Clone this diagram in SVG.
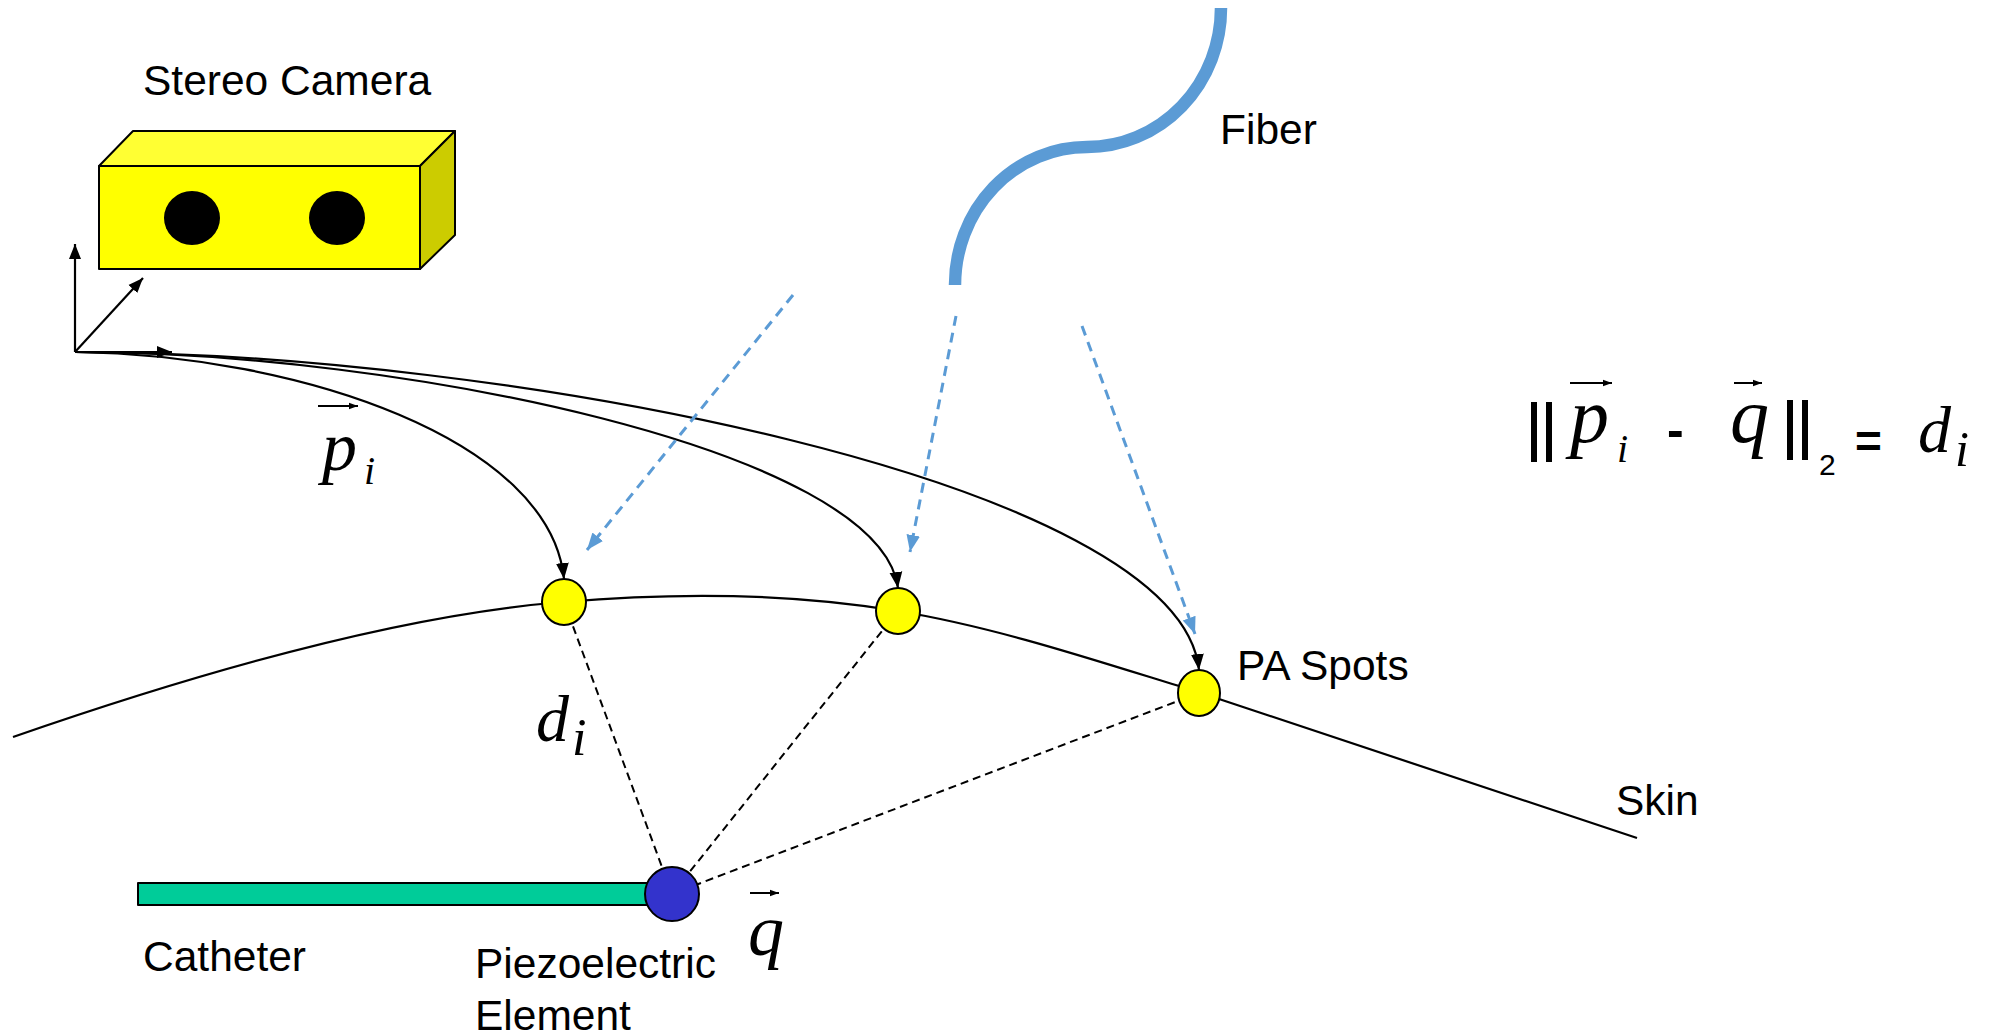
<svg xmlns="http://www.w3.org/2000/svg" width="2003" height="1035" viewBox="0 0 2003 1035">
  <style>
    .lbl { font-family: "Liberation Sans", Arial, sans-serif; font-size: 42.5px; fill: #000; }
    .mi { font-family: "Liberation Serif", "Times New Roman", serif; font-style: italic; fill: #000; }
    .op { font-family: "Liberation Sans", Arial, sans-serif; font-weight: bold; fill: #000; }
    .bar { stroke: #000; stroke-width: 6; }
    .edge { fill: none; stroke: #000; stroke-width: 2.2; }
    .ray { fill: none; stroke: #5B9BD5; stroke-width: 3; stroke-dasharray: 10 7; }
    .dist { fill: none; stroke: #000; stroke-width: 2; stroke-dasharray: 8 5; }
    .spot { fill: #FFFF00; stroke: #000; stroke-width: 2; }
    .outline { stroke: #000; stroke-width: 2; stroke-linejoin: round; }
  </style>
  <defs>
    <marker id="ah" viewBox="0 0 10 10" refX="10" refY="5" markerWidth="16" markerHeight="16" orient="auto" markerUnits="userSpaceOnUse">
      <path d="M0,1 L10,5 L0,9 z" fill="#000"/>
    </marker>
    <marker id="ahSmall" viewBox="0 0 10 10" refX="10" refY="5" markerWidth="15" markerHeight="15" orient="auto" markerUnits="userSpaceOnUse">
      <path d="M0,1 L10,5 L0,9 z" fill="#000"/>
    </marker>
    <marker id="ahBlue" viewBox="0 0 10 10" refX="10" refY="5" markerWidth="17" markerHeight="17" orient="auto" markerUnits="userSpaceOnUse">
      <path d="M0,1 L10,5 L0,9 z" fill="#5B9BD5"/>
    </marker>
    <marker id="vec" viewBox="0 0 10 10" refX="10" refY="5" markerWidth="9" markerHeight="9" orient="auto" markerUnits="userSpaceOnUse">
      <path d="M0,1.5 L10,5 L0,8.5 z" fill="#000"/>
    </marker>
  </defs>

  <rect width="2003" height="1035" fill="#fff"/>

  <!-- skin surface -->
  <g id="skin">
    <path class="edge" stroke-width="2" d="M13,737 C200,672 400,615 563,602 C680,592 790,593 898,611 C1000,628 1100,662 1198,692 L1637,838"/>
  </g>

  <g id="connectors">
    <!-- distances from each PA spot to the piezo element -->
    <line class="dist" x1="564" y1="602" x2="672" y2="894"/>
    <line class="dist" x1="898" y1="611" x2="672" y2="894"/>
    <line class="dist" x1="1199" y1="693" x2="672" y2="894"/>
    <!-- position vectors from the camera frame -->
    <path class="edge" marker-end="url(#ah)" d="M75,352 C300,355 550,440 564,579"/>
    <path class="edge" marker-end="url(#ah)" d="M75,352 C400,352 880,450 898,588"/>
    <path class="edge" marker-end="url(#ah)" d="M75,352 C500,352 1180,480 1199,670"/>
    <!-- laser rays from the fiber -->
    <line class="ray" marker-end="url(#ahBlue)" x1="793" y1="295" x2="587" y2="550"/>
    <line class="ray" marker-end="url(#ahBlue)" x1="956" y1="316" x2="910" y2="552"/>
    <line class="ray" marker-end="url(#ahBlue)" x1="1082" y1="326" x2="1195" y2="634"/>
  </g>

  <g id="spot1"><ellipse class="spot" cx="564" cy="602" rx="22" ry="23"/></g>
  <g id="spot2"><ellipse class="spot" cx="898" cy="611" rx="22" ry="23"/></g>
  <g id="spot3"><ellipse class="spot" cx="1199" cy="693" rx="21" ry="23"/></g>

  <g id="catheter">
    <rect class="outline" x="138" y="883" width="522" height="22" fill="#00CC99"/>
  </g>
  <g id="piezo">
    <circle class="outline" cx="672" cy="894" r="27" fill="#3333CC"/>
  </g>

  <g id="fiber">
    <path d="M1221,8 A134,139 0 0 1 1087,147 A132,138 0 0 0 955,285" fill="none" stroke="#5B9BD5" stroke-width="12.5"/>
  </g>

  <g id="camera">
    <polygon class="outline" points="99,166 133,131 455,131 420,166" fill="#FFFF33"/>
    <polygon class="outline" points="420,166 455,131 455,235 420,269" fill="#CCCC00"/>
    <rect class="outline" x="99" y="166" width="321" height="103" fill="#FFFF00"/>
    <ellipse cx="192" cy="218" rx="28" ry="27" fill="#000"/>
    <ellipse cx="337" cy="218" rx="28" ry="27" fill="#000"/>
  </g>

  <g id="axes">
    <line class="edge" marker-end="url(#ahSmall)" x1="75" y1="352" x2="75" y2="244"/>
    <line class="edge" marker-end="url(#ahSmall)" x1="75" y1="352" x2="143" y2="278"/>
    <line class="edge" marker-end="url(#ahSmall)" x1="75" y1="352" x2="172" y2="352"/>
  </g>

  <g id="labels">
    <text class="lbl" x="143" y="95">Stereo Camera</text>
    <text class="lbl" x="1220" y="144">Fiber</text>
    <text class="lbl" x="1237" y="680">PA Spots</text>
    <text class="lbl" x="1616" y="815">Skin</text>
    <text class="lbl" x="143" y="971">Catheter</text>
    <text class="lbl" x="475" y="978">Piezoelectric</text>
    <text class="lbl" x="475" y="1030">Element</text>

    <!-- p_i vector -->
    <line x1="318" y1="406" x2="358" y2="406" stroke="#000" stroke-width="2" marker-end="url(#vec)"/>
    <text class="mi" x="322" y="470" font-size="70">p</text>
    <text class="mi" x="364" y="484" font-size="40">i</text>

    <!-- d_i distance -->
    <text class="mi" x="536" y="741" font-size="66">d</text>
    <text class="mi" x="572" y="755" font-size="52">i</text>

    <!-- q vector -->
    <line x1="750" y1="893" x2="779" y2="893" stroke="#000" stroke-width="2" marker-end="url(#vec)"/>
    <text class="mi" x="748" y="955" font-size="72">q</text>
  </g>

  <g id="equation">
    <line class="bar" x1="1534" y1="402" x2="1534" y2="462"/>
    <line class="bar" x1="1549" y1="402" x2="1549" y2="462"/>
    <line x1="1570" y1="383" x2="1612" y2="383" stroke="#000" stroke-width="2" marker-end="url(#vec)"/>
    <text class="mi" x="1570" y="442" font-size="78">p</text>
    <text class="mi" x="1617" y="462" font-size="40">i</text>
    <text class="op" x="1667" y="447" font-size="50">-</text>
    <line x1="1734" y1="383" x2="1762" y2="383" stroke="#000" stroke-width="2" marker-end="url(#vec)"/>
    <text class="mi" x="1730" y="442" font-size="78">q</text>
    <line class="bar" x1="1790" y1="400" x2="1790" y2="460"/>
    <line class="bar" x1="1805" y1="400" x2="1805" y2="460"/>
    <text class="lbl" x="1819" y="475" style="font-size:30px">2</text>
    <text class="op" x="1855" y="457" font-size="46">=</text>
    <text class="mi" x="1918" y="452" font-size="66">d</text>
    <text class="mi" x="1955" y="466" font-size="50">i</text>
  </g>
</svg>
